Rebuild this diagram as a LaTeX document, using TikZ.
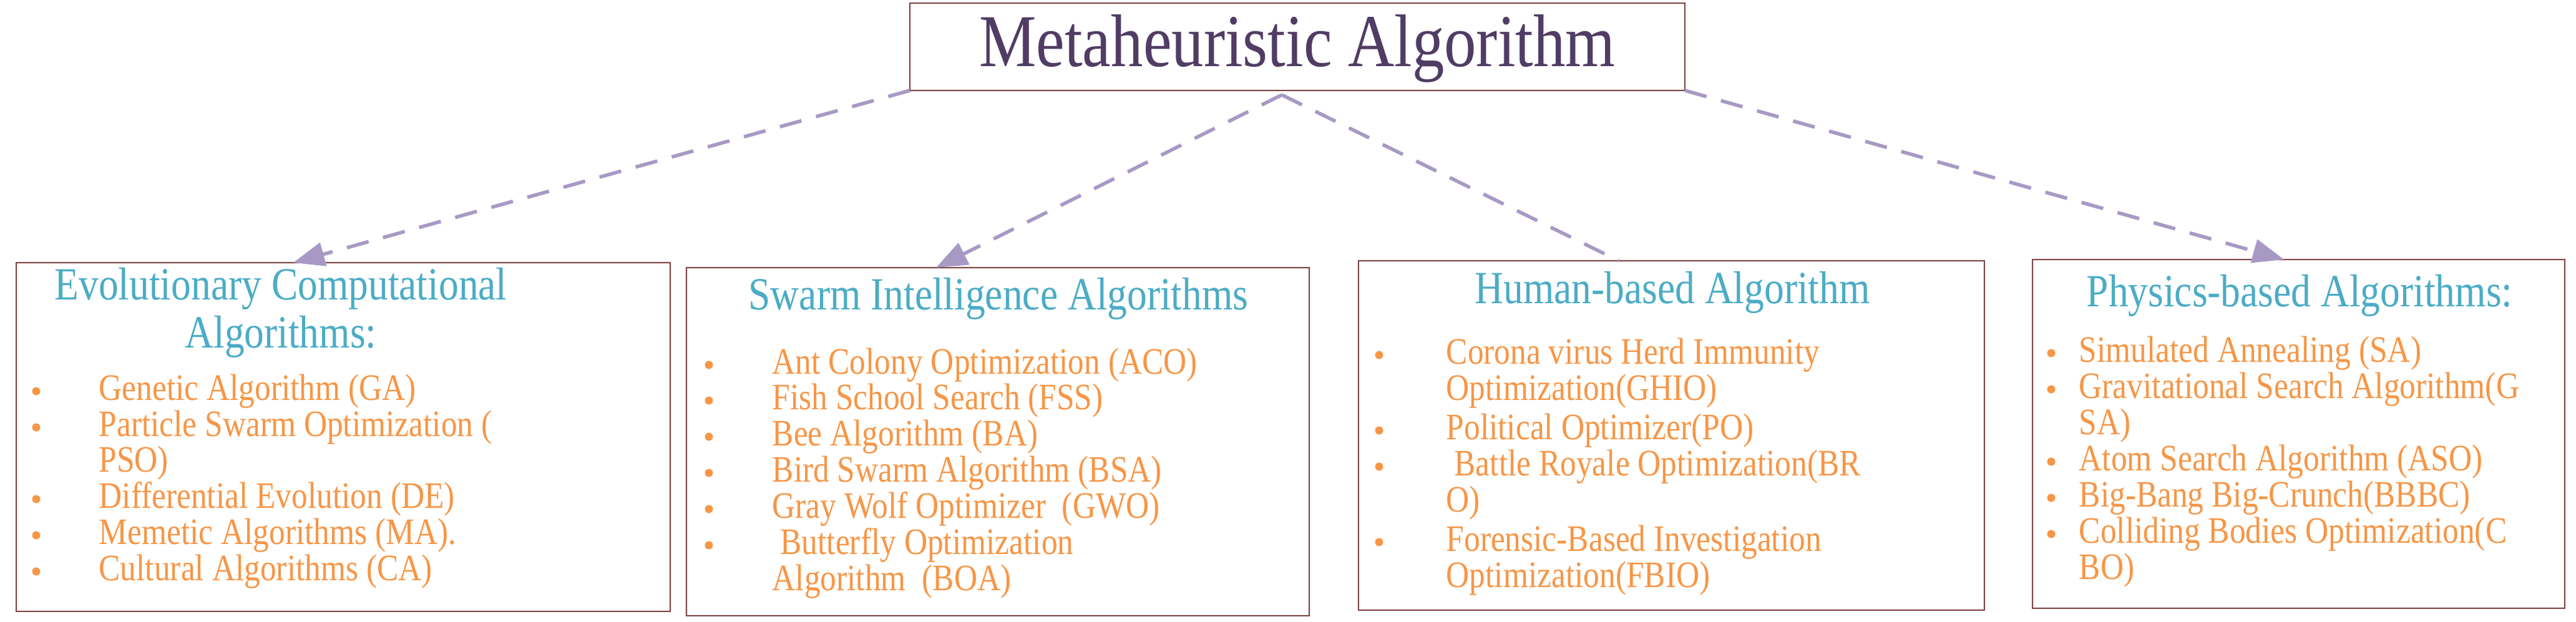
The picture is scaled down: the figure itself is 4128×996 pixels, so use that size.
\documentclass[tikz,border=0pt]{standalone}
\usepackage{fontspec}
\setmainfont{Liberation Serif}[FakeStretch=0.86]
\usetikzlibrary{arrows.meta}
\definecolor{brd}{RGB}{125,65,65}
\definecolor{ttl}{RGB}{80,60,100}
\definecolor{hd}{RGB}{75,172,198}
\definecolor{itm}{RGB}{247,150,70}
\definecolor{arr}{RGB}{168,153,196}
\tikzset{
 box/.style={draw=brd,line width=0.8pt,inner sep=0pt},
 head/.style={text=hd,font=\fontsize{21}{22}\selectfont,inner sep=0pt},
 item/.style={text=itm,font=\fontsize{17}{18}\selectfont,anchor=west,inner sep=0pt},
 bul/.style={fill=itm,circle,inner sep=0pt,minimum width=0.1cm,minimum height=0.13cm,ellipse/.try},
 conn/.style={draw=arr,line width=1.6pt,dash pattern=on 0.36cm off 0.24cm},
 tip/.style={-{Triangle[length=0.5cm,width=0.38cm]}}
}
\begin{document}
\begin{tikzpicture}[x=0.01cm,y=-0.01cm]
\useasboundingbox (0,0) rectangle (4128,996);
% title
\draw[box] (1458,5) rectangle (2700,145);
\node[text=ttl,font=\fontsize{34}{36}\selectfont] (title) at (2079,78) {Metaheuristic Algorithm};
\coordinate (tl) at (1458,145);
\coordinate (tm) at (2054,152);
\coordinate (tr) at (2700,145);
% boxes
\draw[box] (26,421) rectangle (1074,980);
\draw[box] (1100,429) rectangle (2098,987);
\draw[box] (2177,418) rectangle (3180,978);
\draw[box] (3257,416) rectangle (4110,975);
\coordinate (b1) at (470,421);
\coordinate (b2) at (1500,429);
\coordinate (b3) at (2594,418);
\coordinate (b4) at (3660,416);
\draw[conn,tip] (tl) -- (b1);
\draw[conn,tip] (tm) -- (b2);
\draw[conn] (tm) -- (b3);
\draw[conn,tip] (tr) -- (b4);
% box 1
\node[head] (h1a) at (450,463) {Evolutionary Computational};
\node[head] (h1b) at (450,540) {Algorithms:};
\foreach \y/\t/\b in {627/Genetic Algorithm (GA)/1,685/Particle Swarm Optimization (/1,742/PSO)/0,800/Differential Evolution (DE)/1,858/Memetic Algorithms (MA)./1,916/Cultural Algorithms (CA)/1}{
 \node[item] at (158,\y) {\t};
 \ifnum\b=1 \node[bul] at (58,\y) {};\fi
}
% box 2
\node[head] (h2) at (1600,479) {Swarm Intelligence Algorithms};
\foreach \y/\t/\b in {585/Ant Colony Optimization (ACO)/1,642/Fish School Search (FSS)/1,700/Bee Algorithm (BA)/1,758/Bird Swarm Algorithm (BSA)/1,816/Gray Wolf Optimizer \ (GWO)/1,874/\ Butterfly Optimization/1,932/Algorithm \ (BOA)/0}{
 \node[item] at (1237,\y) {\t};
 \ifnum\b=1 \node[bul] at (1136,\y) {};\fi
}
% box 3
\node[head] (h3) at (2680,469) {Human-based Algorithm};
\foreach \y/\t/\b in {569/Corona virus Herd Immunity/1,627/Optimization(GHIO)/0,690/Political Optimizer(PO)/1,748/\ Battle Royale Optimization(BR/1,806/O)/0,869/Forensic-Based Investigation/1,927/Optimization(FBIO)/0}{
 \node[item] at (2317,\y) {\t};
 \ifnum\b=1 \node[bul] at (2210,\y) {};\fi
}
% box 4
\node[head] (h4) at (3685,474) {Physics-based Algorithms:};
\foreach \y/\t/\b in {566/Simulated Annealing (SA)/1,624/Gravitational Search Algorithm(G/1,682/SA)/0,740/Atom Search Algorithm (ASO)/1,798/Big-Bang Big-Crunch(BBBC)/1,856/Colliding Bodies Optimization(C/1,914/BO)/0}{
 \node[item] at (3331,\y) {\t};
 \ifnum\b=1 \node[bul] at (3287,\y) {};\fi
}
\end{tikzpicture}
\end{document}
